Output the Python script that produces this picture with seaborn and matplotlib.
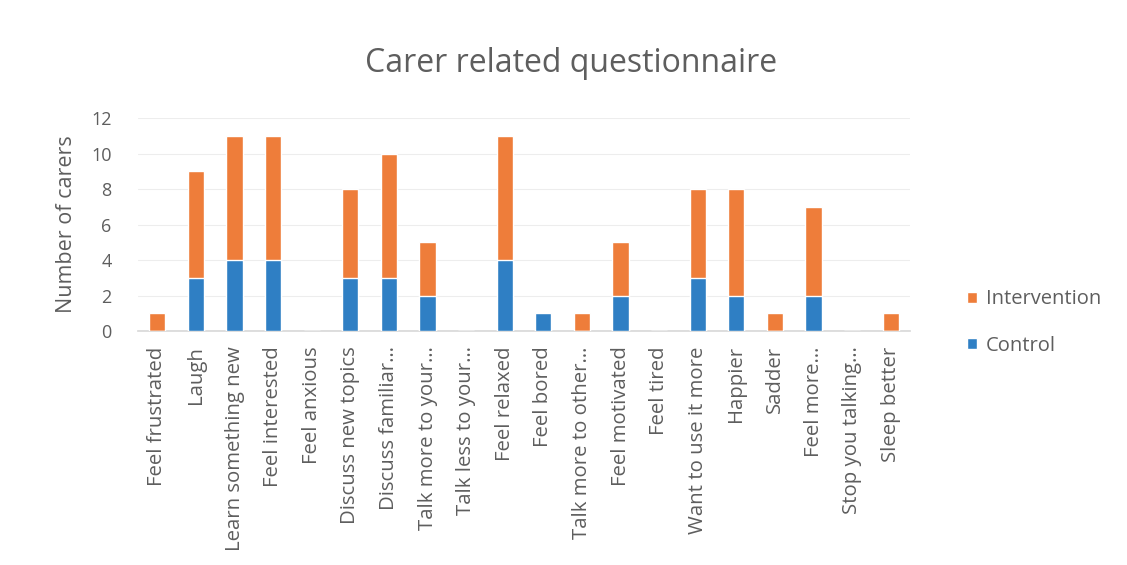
import matplotlib
matplotlib.use("Agg")
import matplotlib.pyplot as plt
import seaborn as sns
import pandas as pd

categories = [
    "Feel frustrated", "Laugh", "Learn something new", "Feel interested",
    "Feel anxious", "Discuss new topics", "Discuss familiar…",
    "Talk more to your…", "Talk less to your…", "Feel relaxed", "Feel bored",
    "Talk more to other…", "Feel motivated", "Feel tired",
    "Want to use it more", "Happier", "Sadder", "Feel more…",
    "Stop you talking…", "Sleep better",
]
control = [0, 3, 4, 4, 0, 3, 3, 2, 0, 4, 1, 0, 2, 0, 3, 2, 0, 2, 0, 0]
intervention = [1, 6, 7, 7, 0, 5, 7, 3, 0, 7, 0, 1, 3, 0, 5, 6, 1, 5, 0, 1]

blue = "#2F7FC4"
orange = "#EE7D3A"
text_col = "#5E5E5E"

df = pd.DataFrame({"item": categories, "Control": control, "Intervention": intervention})
df["stack_top"] = df["Control"] + df["Intervention"]

sns.set_theme(style="white")
plt.rcParams["font.family"] = ["Open Sans", "DejaVu Sans"]

fig = plt.figure(figsize=(11.27, 5.65), dpi=100)
ax = fig.add_axes([0.1225, 0.414, 0.685, 0.377])

# stacked columns: full stack in orange, control segment drawn over its base
sns.barplot(data=df, x="item", y="stack_top", color=orange, width=0.42,
            saturation=1, ax=ax, label="Intervention", zorder=3)
sns.barplot(data=df, x="item", y="Control", color=blue, width=0.42,
            saturation=1, ax=ax, label="Control", zorder=3)

ax.set_ylim(0, 12)
ax.set_yticks(range(0, 13, 2))
ax.yaxis.grid(True, color="#EDEDED", linewidth=0.8, zorder=0)
ax.set_axisbelow(True)
for side in ["top", "right", "left"]:
    ax.spines[side].set_visible(False)
ax.spines["bottom"].set_color("#D9D9D9")

ax.set_xlabel("")
ax.set_ylabel("Number of carers", fontsize=15.5, color=text_col, labelpad=10)
ax.tick_params(axis="y", labelsize=13, colors=text_col, length=0, pad=19)
ax.tick_params(axis="x", labelsize=14.7, colors=text_col, length=0, pad=11)
plt.setp(ax.get_xticklabels(), rotation=90)

# chart title centred over the whole chart area
fig.suptitle("Carer related questionnaire", x=0.507, y=0.917, fontsize=23,
             color=text_col)

handles, labels = ax.get_legend_handles_labels()
ax.legend(handles, labels, loc="center left", bbox_to_anchor=(1.05, 0.04),
          frameon=False, fontsize=14.5, labelcolor=text_col, handlelength=0.5,
          handleheight=0.5, handletextpad=0.45, labelspacing=1.3)

fig.savefig("out.png", dpi=100, facecolor="white")
